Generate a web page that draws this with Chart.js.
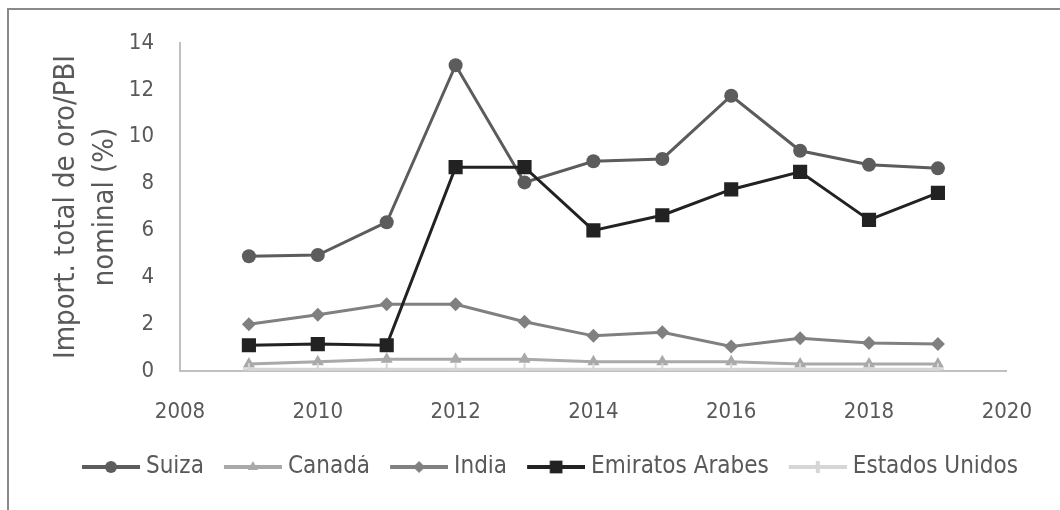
<!DOCTYPE html>
<html>
<head>
<meta charset="utf-8">
<script src="https://cdn.jsdelivr.net/npm/chart.js@4/dist/chart.umd.min.js"></script>
<style>
  body { margin: 0; background: #fff; }
  #wrap { position: relative; width: 1060px; height: 510px; }
  #frame { position: absolute; left: 7px; top: 8px; right: 0; bottom: 0;
           border-left: 2px solid #8a8a8a; border-top: 2px solid #8a8a8a; }
  canvas { position: absolute; left: 0; top: 0; }
</style>
</head>
<body>
<div id="wrap">
  <div id="frame"></div>
  <canvas id="chart" width="1060" height="510"></canvas>
</div>
<script>
// Data
const years = [2009, 2010, 2011, 2012, 2013, 2014, 2015, 2016, 2017, 2018, 2019];
const suiza = [4.9, 4.95, 6.35, 13.05, 8.05, 8.95, 9.05, 11.75, 9.4, 8.8, 8.65];
const canada = [0.3, 0.4, 0.5, 0.5, 0.5, 0.4, 0.4, 0.4, 0.3, 0.3, 0.3];
const india = [2.0, 2.4, 2.85, 2.85, 2.1, 1.5, 1.65, 1.05, 1.4, 1.2, 1.15];
const emiratos = [1.1, 1.15, 1.1, 8.7, 8.7, 6.0, 6.65, 7.75, 8.5, 6.45, 7.6];
const eeuu = [0.08, 0.08, 0.08, 0.08, 0.08, 0.08, 0.08, 0.08, 0.08, 0.08, 0.08];
const seriesNames = ['Suiza', 'Canadá', 'India', 'Emiratos Arabes', 'Estados Unidos'];
const xTicks = [2008, 2010, 2012, 2014, 2016, 2018, 2020];
const yTicks = [0, 2, 4, 6, 8, 10, 12, 14];
const yTitle = ['Import. total de oro/PBI', 'nominal (%)'];

const textColor = '#595959';
const fontFamily = '"DejaVu Sans Condensed", "Liberation Sans", sans-serif';

// legend icon: line with the marker in the middle, left part left empty as spacing
function legendIcon(color, style, radius) {
    const c = document.createElement('canvas');
    c.width = 84;
    c.height = 20;
    const ctx = c.getContext('2d');
    ctx.strokeStyle = color;
    ctx.lineWidth = 4;
    ctx.beginPath();
    ctx.moveTo(26, 10);
    ctx.lineTo(84, 10);
    ctx.stroke();
    ctx.fillStyle = color;
    Chart.helpers.drawPoint(ctx, { pointStyle: style, radius: radius, rotation: 0, borderWidth: style === 'cross' ? 2 : 0 }, 55, 10);
    return c;
}

function makeSeries(i, values, color, style, radius, legendRadius) {
    return {
        label: seriesNames[i],
        data: years.map((y, k) => ({ x: y, y: values[k] })),
        borderColor: color,
        backgroundColor: color,
        borderWidth: 3,
        pointStyle: style,
        pointRadius: radius,
        pointBorderWidth: style === 'cross' ? 2 : 0,
        pointBackgroundColor: color,
        pointBorderColor: color,
        order: -i,
        icon: legendIcon(color, style, legendRadius)
    };
}

const datasets = [
    makeSeries(0, suiza, '#5c5c5c', 'circle', 7, 6),
    makeSeries(1, canada, '#a9a9a9', 'triangle', 7, 6),
    makeSeries(2, india, '#808080', 'rectRot', 7, 6),
    makeSeries(3, emiratos, '#222222', 'rect', 10, 9),
    makeSeries(4, eeuu, '#d6d6d6', 'cross', 6, 6)
];

new Chart(document.getElementById('chart'), {
    type: 'line',
    data: { datasets: datasets },
    options: {
        responsive: false,
        animation: false,
        devicePixelRatio: 1,
        layout: { padding: { left: 57, right: 37, top: 43, bottom: 21 } },
        plugins: {
            tooltip: { enabled: false },
            legend: {
                position: 'bottom',
                labels: {
                    usePointStyle: true,
                    pointStyleWidth: 72,
                    padding: 0,
                    color: textColor,
                    font: { family: fontFamily, size: 24 },
                    sort: (a, b) => a.datasetIndex - b.datasetIndex,
                    generateLabels: function (chart) {
                        return chart.data.datasets.map((ds, i) => ({
                            text: ds.label,
                            pointStyle: ds.icon,
                            fillStyle: ds.borderColor,
                            strokeStyle: ds.borderColor,
                            lineWidth: 0,
                            fontColor: textColor,
                            datasetIndex: i,
                            hidden: false
                        }));
                    }
                }
            }
        },
        scales: {
            x: {
                type: 'linear',
                min: 2008,
                max: 2020,
                afterFit: s => { s.height = 84; },
                afterBuildTicks: s => { s.ticks = xTicks.map(v => ({ value: v })); },
                grid: { display: false, drawTicks: false },
                border: { color: '#c0c0c0', width: 2 },
                ticks: {
                    padding: 28,
                    color: textColor,
                    font: { family: fontFamily, size: 22 },
                    callback: v => String(v)
                }
            },
            y: {
                min: 0,
                max: 14,
                afterFit: s => { s.width = 123; },
                afterBuildTicks: s => { s.ticks = yTicks.map(v => ({ value: v })); },
                grid: { display: false, drawTicks: false },
                border: { color: '#c0c0c0', width: 2 },
                ticks: {
                    padding: 26,
                    color: textColor,
                    font: { family: fontFamily, size: 22 }
                },
                title: {
                    display: true,
                    text: yTitle,
                    color: textColor,
                    font: { family: fontFamily, size: 29, lineHeight: 1.35 },
                    padding: { top: -10.5, bottom: 0 }
                }
            }
        }
    }
});
</script>
</body>
</html>
